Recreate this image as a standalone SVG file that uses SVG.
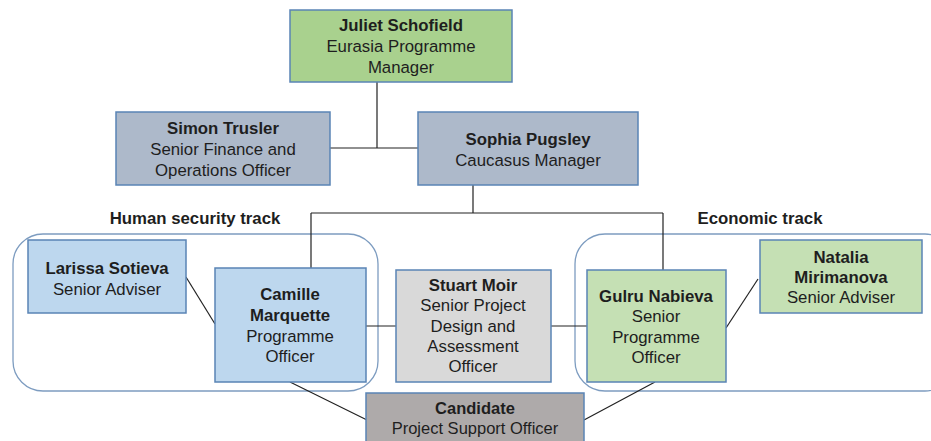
<svg xmlns="http://www.w3.org/2000/svg" width="931" height="441" viewBox="0 0 931 441">
<style>
.box{stroke:#5a84b5;stroke-width:1.5}
.grp{fill:none;stroke:#7d9cc0;stroke-width:1.3}
.ln{stroke:#222;stroke-width:1.2;fill:none}
text{font-family:"Liberation Sans",Arial,sans-serif;font-size:16.8px;fill:#1e1e1e;text-anchor:middle}
.b{font-weight:bold}
.s{font-size:16.5px}
</style>
<rect width="931" height="441" fill="#fff"/>
<g id="groups">
<rect class="grp" x="13" y="234" width="365" height="157" rx="30"/>
<rect class="grp" x="575" y="234" width="380" height="157" rx="30"/>
<text class="b" x="195" y="224">Human security track</text>
<text class="b" x="760" y="224">Economic track</text>
</g>
<g id="connectors">
<path class="ln" d="M377 82V148M330 148H418"/>
<path class="ln" d="M473 185V213M311 213H663M311 213V268M663 213V270"/>
<path class="ln" d="M186 277L215 324"/>
<path class="ln" d="M366 326H396M551 326H587"/>
<path class="ln" d="M726 328L758 279"/>
<path class="ln" d="M290 382L367 420M655 382L584 420"/>
</g>
<g id="juliet">
<rect class="box" x="290" y="10" width="222" height="72" fill="#a9d18e"/>
<text class="b" x="401" y="31">Juliet Schofield</text>
<text x="401" y="52">Eurasia Programme</text>
<text x="401" y="73">Manager</text>
</g>
<g id="simon">
<rect class="box" x="116" y="112" width="214" height="73" fill="#adb9ca"/>
<text class="b" x="223" y="134">Simon Trusler</text>
<text x="223" y="155">Senior Finance and</text>
<text x="223" y="176">Operations Officer</text>
</g>
<g id="sophia">
<rect class="box" x="418" y="112" width="220" height="73" fill="#adb9ca"/>
<text class="b" x="528" y="145">Sophia Pugsley</text>
<text x="528" y="166">Caucasus Manager</text>
</g>
<g id="larissa">
<rect class="box" x="28" y="240" width="158" height="73" fill="#bdd7ee"/>
<text class="b" x="107" y="274">Larissa Sotieva</text>
<text x="107" y="295">Senior Adviser</text>
</g>
<g id="camille">
<rect class="box" x="215" y="268" width="151" height="114" fill="#bdd7ee"/>
<text class="b" x="290" y="300">Camille</text>
<text class="b" x="290" y="321">Marquette</text>
<text x="290" y="342">Programme</text>
<text x="290" y="362">Officer</text>
</g>
<g id="stuart">
<rect class="box" x="396" y="270" width="155" height="112" fill="#d9d9d9"/>
<text class="b" x="473" y="291">Stuart Moir</text>
<text x="473" y="311">Senior Project</text>
<text x="473" y="332">Design and</text>
<text x="473" y="352">Assessment</text>
<text x="473" y="372">Officer</text>
</g>
<g id="gulru">
<rect class="box" x="587" y="270" width="139" height="112" fill="#c5e0b4"/>
<text class="b" x="656" y="302">Gulru Nabieva</text>
<text x="656" y="322">Senior</text>
<text x="656" y="343">Programme</text>
<text x="656" y="363">Officer</text>
</g>
<g id="natalia">
<rect class="box" x="760" y="240" width="162" height="73" fill="#c5e0b4"/>
<text class="b" x="841" y="263">Natalia</text>
<text class="b" x="841" y="283">Mirimanova</text>
<text x="841" y="303">Senior Adviser</text>
</g>
<g id="candidate">
<rect class="box" x="366" y="393" width="218" height="60" fill="#aeaaaa"/>
<text class="b s" x="475" y="414">Candidate</text>
<text class="s" x="475" y="434">Project Support Officer</text>
</g>
</svg>
